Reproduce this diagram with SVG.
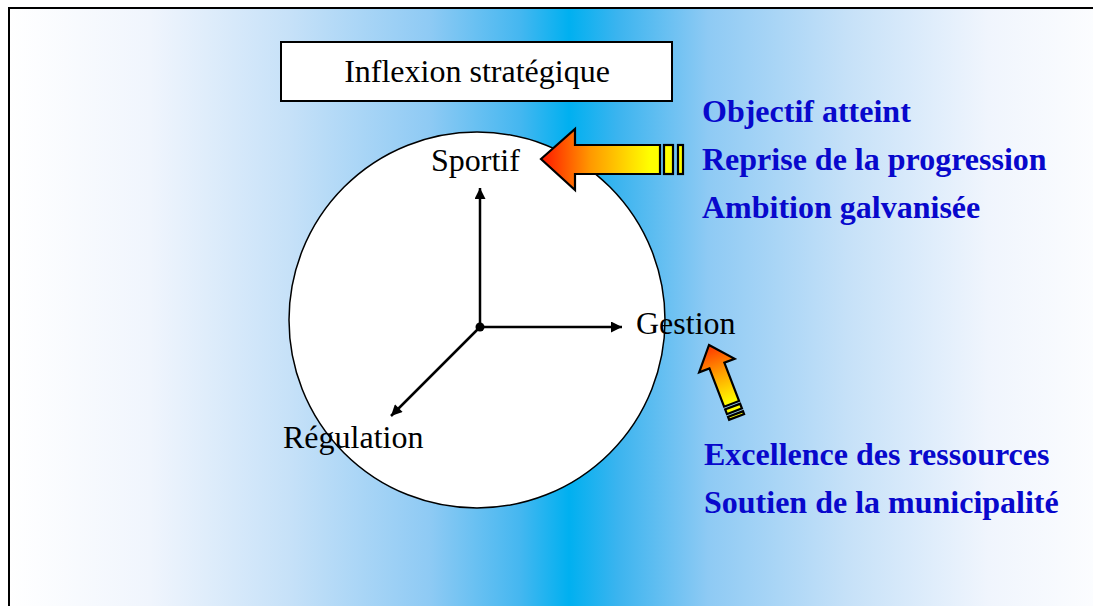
<svg xmlns="http://www.w3.org/2000/svg" width="1093" height="606" viewBox="0 0 1093 606">
<style>
.lbl{font-family:"Liberation Serif","Times New Roman",serif;font-size:32px;fill:#000}
.blue{font-family:"Liberation Serif","Times New Roman",serif;font-size:32px;font-weight:bold;fill:#0808CC}
.axis{stroke:#000;stroke-width:2.5;fill:none}
.arr{stroke:#000;stroke-width:2.2;stroke-linejoin:miter}
</style>
<defs>
<linearGradient id="bg" gradientUnits="userSpaceOnUse" x1="9" y1="0" x2="1129" y2="0">
<stop offset="0" stop-color="#FFFFFF"/>
<stop offset="0.126" stop-color="#F0F5FD"/>
<stop offset="0.251" stop-color="#C6E1F8"/>
<stop offset="0.376" stop-color="#8ECAF4"/>
<stop offset="0.456" stop-color="#45B7F0"/>
<stop offset="0.5" stop-color="#00B0F0"/>
<stop offset="0.544" stop-color="#3CB4EF"/>
<stop offset="0.624" stop-color="#8ECAF4"/>
<stop offset="0.749" stop-color="#C6E1F8"/>
<stop offset="0.874" stop-color="#F0F5FD"/>
<stop offset="1" stop-color="#FFFFFF"/>
</linearGradient>
<linearGradient id="gH" gradientUnits="userSpaceOnUse" x1="542" y1="0" x2="650" y2="0">
<stop offset="0" stop-color="#FF1A00"/>
<stop offset="0.45" stop-color="#FF9900"/>
<stop offset="1" stop-color="#FFFF00"/>
</linearGradient>
<linearGradient id="gV" gradientUnits="userSpaceOnUse" x1="0" y1="0" x2="0" y2="62">
<stop offset="0" stop-color="#FF3300"/>
<stop offset="0.5" stop-color="#FFA000"/>
<stop offset="1" stop-color="#FFFF00"/>
</linearGradient>
<marker id="ah" viewBox="0 0 10 10" refX="10" refY="5" markerWidth="13" markerHeight="11" markerUnits="userSpaceOnUse" orient="auto">
<path d="M0,0 L10,5 L0,10 z" fill="#000"/>
</marker>
</defs>
<rect x="9" y="8" width="1200" height="700" fill="url(#bg)" stroke="#000" stroke-width="2"/>
<g id="title">
<rect x="281" y="42" width="391" height="59" fill="#FFFFFF" stroke="#000" stroke-width="2"/>
<text class="lbl" x="477" y="82" text-anchor="middle">Inflexion stratégique</text>
</g>
<g id="circle">
<circle cx="477" cy="320" r="188" fill="#FFFFFF" stroke="#000" stroke-width="1.5"/>
</g>
<g id="connectors">
<line class="axis" x1="480" y1="327" x2="480" y2="188" marker-end="url(#ah)"/>
<line class="axis" x1="480" y1="327" x2="622" y2="327" marker-end="url(#ah)"/>
<line class="axis" x1="480" y1="327" x2="391" y2="416" marker-end="url(#ah)"/>
<circle cx="480" cy="327" r="4.5" fill="#000"/>
</g>
<g id="sportif"><text class="lbl" x="431" y="171">Sportif</text></g>
<g id="gestion"><text class="lbl" x="636" y="334">Gestion</text></g>
<g id="regulation"><text class="lbl" x="283" y="448">Régulation</text></g>
<g id="arrow-sportif">
<path class="arr" fill="url(#gH)" d="M541,159 L575,129 L575,145 L660,145 L660,174 L575,174 L575,190 Z"/>
<rect class="arr" x="664" y="145" width="9" height="29" fill="#FFFF00"/>
<rect class="arr" x="678" y="145" width="5" height="29" fill="#FFFF00"/>
</g>
<g id="arrow-gestion" transform="translate(709,345) rotate(-21)">
<path class="arr" fill="url(#gV)" d="M0,0 L19,22 L8,22 L8,63 L-8,63 L-8,22 L-19,22 Z"/>
<rect class="arr" x="-8" y="66" width="16" height="5" fill="#FFFF00"/>
<rect class="arr" x="-8" y="74" width="16" height="3" fill="#FFFF00"/>
</g>
<g id="sportif-factors">
<text class="blue" x="702" y="122">Objectif atteint</text>
<text class="blue" x="702" y="170">Reprise de la progression</text>
<text class="blue" x="702" y="218">Ambition galvanisée</text>
</g>
<g id="gestion-factors">
<text class="blue" x="704" y="465">Excellence des ressources</text>
<text class="blue" x="704" y="513">Soutien de la municipalité</text>
</g>
</svg>
